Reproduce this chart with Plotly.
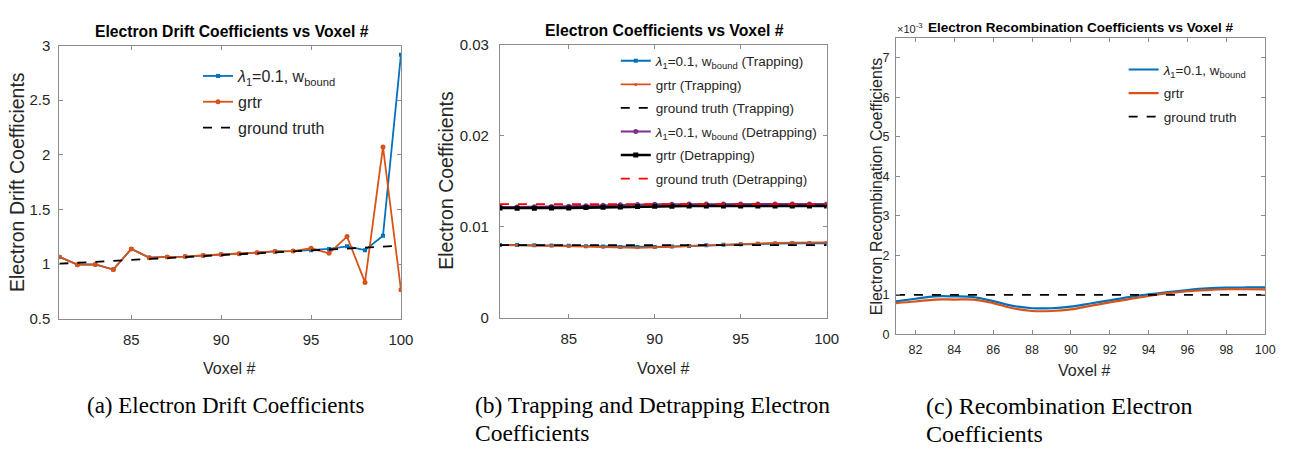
import plotly.graph_objects as go

voxels = list(range(81, 101))

# (a) Electron drift coefficients
drift_lambda = [1.067, 0.996, 0.998, 0.952, 1.140, 1.060, 1.067, 1.070, 1.080, 1.090,
                1.096, 1.105, 1.117, 1.120, 1.129, 1.140, 1.164, 1.129, 1.260, 2.917]
drift_grtr = [1.067, 0.996, 0.998, 0.952, 1.140, 1.060, 1.067, 1.070, 1.080, 1.090,
              1.096, 1.105, 1.117, 1.120, 1.146, 1.100, 1.253, 0.834, 2.073, 0.766]
drift_truth = [1.005, 1.014, 1.023, 1.031, 1.040, 1.049, 1.057, 1.066, 1.075, 1.083,
               1.092, 1.100, 1.109, 1.118, 1.126, 1.135, 1.144, 1.152, 1.161, 1.170]

# (b) Trapping / detrapping coefficients
trap_lambda = [0.00802, 0.00800, 0.00797, 0.00795, 0.00792, 0.00788, 0.00784, 0.00780, 0.00778, 0.00779,
               0.00783, 0.00790, 0.00797, 0.00804, 0.00810, 0.00814, 0.00817, 0.00819, 0.00820, 0.00821]
trap_grtr = [0.00802, 0.00800, 0.00796, 0.00793, 0.00789, 0.00784, 0.00778, 0.00772, 0.00770, 0.00774,
             0.00781, 0.00790, 0.00799, 0.00808, 0.00815, 0.00820, 0.00824, 0.00827, 0.00829, 0.00830]
trap_truth = [0.0080] * 20
detrap_lambda = [0.01217, 0.01218, 0.01220, 0.01223, 0.01227, 0.01232, 0.01238, 0.01243, 0.01246, 0.01248,
                 0.01249, 0.01250, 0.01250, 0.01250, 0.01250, 0.01250, 0.01250, 0.01250, 0.01250, 0.01250]
detrap_grtr = [0.01206, 0.01205, 0.01205, 0.01206, 0.01208, 0.01211, 0.01215, 0.01219, 0.01222, 0.01225,
               0.01227, 0.01228, 0.01229, 0.01230, 0.01230, 0.01230, 0.01230, 0.01230, 0.01230, 0.01230]
detrap_truth = [0.0125] * 20

# (c) Recombination coefficients
recomb_lambda = [0.000835, 0.000900, 0.000960, 0.000960, 0.000940, 0.000840, 0.000720, 0.000660, 0.000660, 0.000700,
                 0.000780, 0.000860, 0.000940, 0.001010, 0.001070, 0.001120, 0.001160, 0.001180, 0.001185, 0.001185]
recomb_grtr = [0.000790, 0.000830, 0.000880, 0.000880, 0.000880, 0.000790, 0.000660, 0.000590, 0.000590, 0.000630,
               0.000720, 0.000810, 0.000890, 0.000970, 0.001040, 0.001090, 0.001120, 0.001140, 0.001140, 0.001135]
recomb_truth = [0.001] * 20

recomb_ticks = [0, 0.001, 0.002, 0.003, 0.004, 0.005, 0.006, 0.007]
recomb_ticktext = ["0", "1", "2", "3", "4", "5", "6", "7"]

BLUE = "#0072BD"
ORANGE = "#D95319"
PURPLE = "#7E2F8E"
LAM = "<i>λ</i><sub>1</sub>=0.1, w<sub>bound</sub>"
FONT = "Liberation Sans, Arial, sans-serif"
SERIF = "Liberation Serif, Times New Roman, serif"
AXC = "#8c8c8c"
TXC = "#262626"

fig = go.Figure()

# Panel (a)
fig.add_trace(go.Scatter(x=voxels, y=drift_lambda, mode="lines+markers", name=LAM, legendgroup="a1",
                         line=dict(color=BLUE, width=1.8), marker=dict(symbol="square", size=4, color=BLUE),
                         xaxis="x", yaxis="y", legend="legend"))
fig.add_trace(go.Scatter(x=voxels, y=drift_grtr, mode="lines+markers", name="grtr", legendgroup="a2",
                         line=dict(color=ORANGE, width=1.8), marker=dict(size=5, color=ORANGE),
                         xaxis="x", yaxis="y", legend="legend"))
fig.add_trace(go.Scatter(x=voxels, y=drift_truth, mode="lines", name="ground truth", legendgroup="a3",
                         line=dict(color="black", width=1.8, dash="dash"),
                         xaxis="x", yaxis="y", legend="legend"))

# Panel (b)
fig.add_trace(go.Scatter(x=voxels, y=trap_lambda, mode="lines+markers", name=LAM + " (Trapping)",
                         legendgroup="b1",
                         line=dict(color=BLUE, width=2), marker=dict(symbol="square", size=4, color=BLUE),
                         xaxis="x2", yaxis="y2", legend="legend2"))
fig.add_trace(go.Scatter(x=voxels, y=trap_grtr, mode="lines+markers", name="grtr (Trapping)",
                         legendgroup="b2",
                         line=dict(color=ORANGE, width=1.8), marker=dict(size=3, color=ORANGE),
                         xaxis="x2", yaxis="y2", legend="legend2"))
fig.add_trace(go.Scatter(x=voxels, y=trap_truth, mode="lines", name="ground truth (Trapping)",
                         legendgroup="b3",
                         line=dict(color="black", width=1.8, dash="dash"),
                         xaxis="x2", yaxis="y2", legend="legend2"))
fig.add_trace(go.Scatter(x=voxels, y=detrap_lambda, mode="lines+markers", name=LAM + " (Detrapping)",
                         legendgroup="b4",
                         line=dict(color=PURPLE, width=2), marker=dict(size=5, color=PURPLE),
                         xaxis="x2", yaxis="y2", legend="legend2"))
fig.add_trace(go.Scatter(x=voxels, y=detrap_grtr, mode="lines+markers", name="grtr (Detrapping)",
                         legendgroup="b5",
                         line=dict(color="black", width=2.6), marker=dict(symbol="square", size=5, color="black"),
                         xaxis="x2", yaxis="y2", legend="legend2"))
fig.add_trace(go.Scatter(x=voxels, y=detrap_truth, mode="lines", name="ground truth (Detrapping)",
                         legendgroup="b6",
                         line=dict(color="#FF0000", width=1.8, dash="dash"),
                         xaxis="x2", yaxis="y2", legend="legend2"))

# Panel (c)
fig.add_trace(go.Scatter(x=voxels, y=recomb_lambda, mode="lines", name=LAM, line_shape="spline",
                         legendgroup="c1",
                         line=dict(color=BLUE, width=2.2),
                         xaxis="x3", yaxis="y3", legend="legend3"))
fig.add_trace(go.Scatter(x=voxels, y=recomb_grtr, mode="lines", name="grtr", line_shape="spline",
                         legendgroup="c2",
                         line=dict(color=ORANGE, width=2.2),
                         xaxis="x3", yaxis="y3", legend="legend3"))
fig.add_trace(go.Scatter(x=voxels, y=recomb_truth, mode="lines", name="ground truth",
                         legendgroup="c3",
                         line=dict(color="black", width=1.8, dash="dash"),
                         xaxis="x3", yaxis="y3", legend="legend3"))

W, H = 1301, 453

def px_x(p):
    return p / W

def px_y(p):
    return 1 - p / H

axis_common = dict(showline=True, linecolor=AXC, linewidth=1, mirror="ticks", ticks="inside",
                   ticklen=4, tickcolor=AXC, showgrid=False, zeroline=False,
                   tickfont=dict(family=FONT, size=15, color=TXC))
small_tick = dict(family=FONT, size=12.5, color=TXC)

fig.update_layout(
    width=W, height=H, margin=dict(l=0, r=0, t=0, b=0),
    paper_bgcolor="white", plot_bgcolor="white", showlegend=True,
    xaxis=dict(axis_common, domain=[px_x(60), px_x(405)], range=[81, 100], tickvals=[85, 90, 95, 100],
               anchor="y", ticklabelstandoff=7),
    yaxis=dict(axis_common, domain=[px_y(322), px_y(38)], range=[0.5, 3], dtick=0.5, anchor="x",
               ticklabelstandoff=5),
    xaxis2=dict(axis_common, domain=[px_x(505), px_x(835)], range=[81, 100], tickvals=[85, 90, 95, 100],
                anchor="y2", ticklabelstandoff=7),
    yaxis2=dict(axis_common, domain=[px_y(321), px_y(37)], range=[0, 0.03], dtick=0.01, anchor="x2",
                ticklabelstandoff=7),
    xaxis3=dict(axis_common, domain=[px_x(905), px_x(1278)], range=[81, 100],
                tickvals=[82, 84, 86, 88, 90, 92, 94, 96, 98, 100], anchor="y3",
                tickfont=small_tick, ticklabelstandoff=4),
    yaxis3=dict(axis_common, domain=[px_y(338), px_y(30)], range=[0, 0.0075],
                tickvals=recomb_ticks, ticktext=recomb_ticktext, anchor="x3",
                tickfont=small_tick, ticklabelstandoff=3),
    legend=dict(x=px_x(200), y=px_y(52), xanchor="left", yanchor="top", bgcolor="rgba(0,0,0,0)",
                font=dict(family=FONT, size=16, color=TXC), itemwidth=30, tracegroupgap=2),
    legend2=dict(x=px_x(622), y=px_y(38), xanchor="left", yanchor="top", bgcolor="rgba(0,0,0,0)",
                 font=dict(family=FONT, size=13.5, color=TXC), itemwidth=30, tracegroupgap=3),
    legend3=dict(x=px_x(1135), y=px_y(47), xanchor="left", yanchor="top", bgcolor="rgba(0,0,0,0)",
                 font=dict(family=FONT, size=13.5, color=TXC), itemwidth=30, tracegroupgap=3),
)

annotations = [
    # titles
    dict(text="<b>Electron Drift Coefficients vs Voxel #</b>", x=px_x(234), y=px_y(23),
         font=dict(family=FONT, size=15.7, color="black")),
    dict(text="<b>Electron Coefficients vs Voxel #</b>", x=px_x(671), y=px_y(22),
         font=dict(family=FONT, size=15.8, color="black")),
    dict(text="<b>Electron Recombination Coefficients vs Voxel #</b>", x=px_x(1092), y=px_y(19),
         font=dict(family=FONT, size=13.5, color="black")),
    dict(text="×10<sup>-3</sup>", x=px_x(904), y=px_y(20), xanchor="left",
         font=dict(family=FONT, size=11, color=TXC)),
    # axis titles
    dict(text="Electron Drift Coefficients", x=px_x(17), y=px_y(180), textangle=-90,
         font=dict(family=FONT, size=19.5, color=TXC)),
    dict(text="Voxel #", x=px_x(232), y=px_y(373), font=dict(family=FONT, size=16, color=TXC)),
    dict(text="Electron Coefficients", x=px_x(451), y=px_y(178), textangle=-90,
         font=dict(family=FONT, size=19.5, color=TXC)),
    dict(text="Voxel #", x=px_x(670), y=px_y(373), font=dict(family=FONT, size=16, color=TXC)),
    dict(text="Electron Recombination Coefficients", x=px_x(885), y=px_y(184), textangle=-90,
         font=dict(family=FONT, size=16, color=TXC)),
    dict(text="Voxel #", x=px_x(1095), y=px_y(376), font=dict(family=FONT, size=16, color=TXC)),
    # captions
    dict(text="(a) Electron Drift Coefficients", x=px_x(86), y=px_y(412), xanchor="left",
         font=dict(family=SERIF, size=23, color="black")),
    dict(text="(b) Trapping and Detrapping Electron", x=px_x(478), y=px_y(411), xanchor="left",
         font=dict(family=SERIF, size=23.5, color="black")),
    dict(text="Coefficients", x=px_x(478), y=px_y(441), xanchor="left",
         font=dict(family=SERIF, size=23.5, color="black")),
    dict(text="(c) Recombination Electron", x=px_x(933), y=px_y(412), xanchor="left",
         font=dict(family=SERIF, size=24, color="black")),
    dict(text="Coefficients", x=px_x(933), y=px_y(442), xanchor="left",
         font=dict(family=SERIF, size=24, color="black")),
]
for a in annotations:
    a.setdefault("xanchor", "center")
    a.setdefault("yanchor", "middle")
    a.update(xref="paper", yref="paper", showarrow=False)
fig.update_layout(annotations=annotations)

fig.write_html("out.html", config={"displayModeBar": False},
               post_script="document.body.style.margin='0';document.body.style.overflow='hidden';")
